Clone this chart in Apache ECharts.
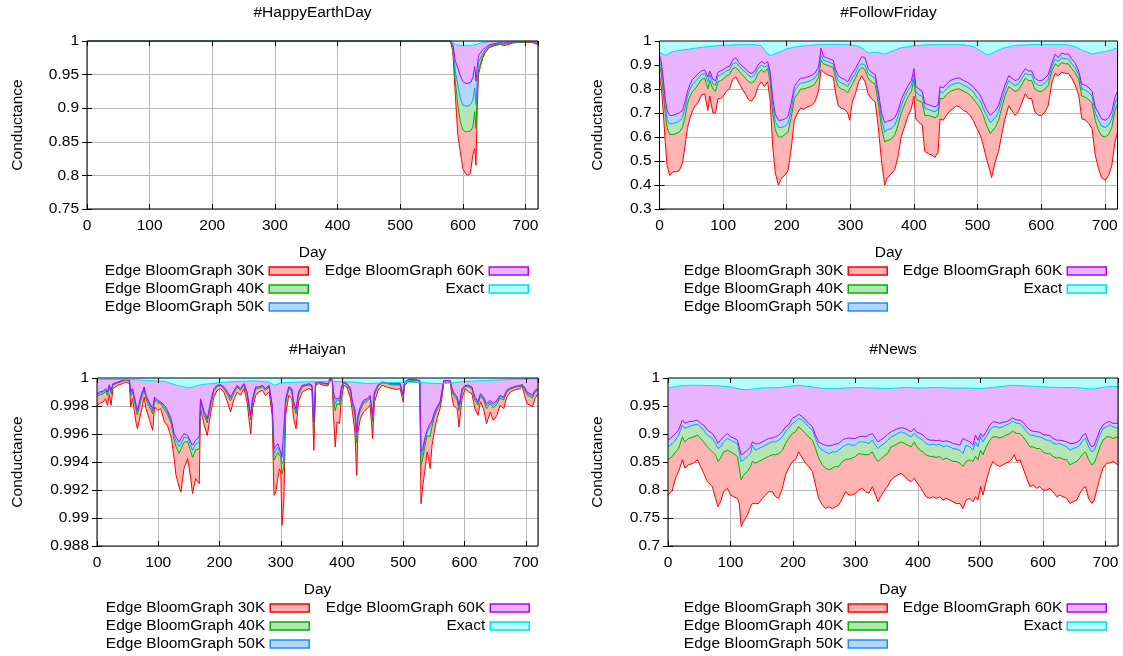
<!DOCTYPE html>
<html>
<head>
<meta charset="utf-8">
<title>Conductance</title>
<script src="https://cdn.jsdelivr.net/npm/echarts@6/dist/echarts.min.js"></script>
<style>
  html, body { margin: 0; padding: 0; background: #fff; }
  #chart { width: 1123px; height: 656px; }
</style>
</head>
<body>
<div id="chart"></div>
<script>
const seriesNames = ['Edge BloomGraph 30K', 'Edge BloomGraph 40K', 'Edge BloomGraph 50K', 'Edge BloomGraph 60K', 'Exact'];

// #HappyEarthDay
const happyDays = [0, 580, 584, 588, 592, 596, 600, 604, 608, 612, 616, 619, 621, 623, 625, 628, 632, 636, 642, 650, 660, 665, 670, 680, 690, 700, 710, 715, 720];
const happy30K = [1, 1, 0.985, 0.92, 0.86, 0.835, 0.81, 0.803, 0.80, 0.803, 0.83, 0.84, 0.815, 0.90, 0.95, 0.962, 0.975, 0.983, 0.99, 0.993, 0.995, 0.993, 0.994, 0.997, 0.998, 0.998, 0.998, 0.996, 0.995];
const happy40K = [1, 1, 0.99, 0.94, 0.905, 0.88, 0.868, 0.865, 0.865, 0.866, 0.872, 0.895, 0.87, 0.92, 0.955, 0.966, 0.978, 0.985, 0.991, 0.994, 0.996, 0.995, 0.996, 0.998, 0.998, 0.999, 0.999, 0.998, 0.997];
const happy50K = [1, 1, 0.992, 0.955, 0.935, 0.915, 0.905, 0.903, 0.903, 0.905, 0.912, 0.93, 0.905, 0.94, 0.968, 0.974, 0.982, 0.987, 0.992, 0.995, 0.997, 0.996, 0.997, 0.998, 0.999, 0.999, 0.999, 0.998, 0.998];
const happy60K = [1, 1, 0.995, 0.97, 0.96, 0.948, 0.94, 0.937, 0.937, 0.938, 0.945, 0.962, 0.94, 0.96, 0.978, 0.982, 0.987, 0.99, 0.994, 0.996, 0.998, 0.997, 0.998, 0.999, 0.999, 0.9995, 0.9995, 0.999, 0.999];
const happyExact = [1, 1, 0.999, 0.995, 0.994, 0.9935, 0.993, 0.993, 0.993, 0.993, 0.9935, 0.9945, 0.9945, 0.995, 0.996, 0.997, 0.998, 0.998, 0.999, 0.999, 0.999, 0.999, 0.999, 0.9995, 0.9995, 0.9995, 0.9995, 0.9995, 0.9995];

// #FollowFriday
const fridayDays = [
  0, 3, 6, 9, 12, 16, 21, 26, 31, 36,
  40, 44, 48, 52, 56, 61, 66, 71, 76, 79,
  84, 88, 92, 96, 100, 105, 110, 115, 120, 125,
  130, 135, 140, 145, 150, 155, 160, 165, 170, 174,
  178, 182, 187, 192, 197, 202, 207, 212, 217, 222,
  227, 232, 238, 244, 250, 254, 258, 263, 268, 273,
  277, 281, 286, 291, 296, 299, 303, 308, 313, 318,
  323, 328, 333, 339, 344, 349, 354, 358, 364, 370,
  375, 380, 386, 391, 396, 400, 403, 408, 413, 417,
  423, 428, 433, 438, 441, 446, 451, 457, 462, 467,
  472, 478, 483, 488, 493, 499, 504, 509, 514, 520,
  522, 528, 533, 538, 543, 549, 554, 559, 564, 570,
  575, 580, 585, 590, 596, 601, 606, 611, 617, 622,
  627, 632, 638, 643, 648, 653, 659, 664, 670, 675,
  680, 685, 690, 695, 701, 706, 711, 716, 720];
const friday30K = [
  0.85, 0.80, 0.70, 0.58, 0.48, 0.44, 0.455, 0.455, 0.46, 0.49,
  0.56, 0.64, 0.68, 0.71, 0.73, 0.745, 0.775, 0.78, 0.71, 0.77,
  0.70, 0.70, 0.76, 0.76, 0.77, 0.79, 0.80, 0.84, 0.85, 0.825,
  0.80, 0.78, 0.755, 0.75, 0.77, 0.81, 0.83, 0.81, 0.83, 0.75,
  0.56, 0.45, 0.40, 0.43, 0.44, 0.46, 0.55, 0.67, 0.70, 0.72,
  0.715, 0.725, 0.73, 0.745, 0.79, 0.88, 0.87, 0.86, 0.855, 0.85,
  0.78, 0.73, 0.72, 0.715, 0.70, 0.67, 0.745, 0.78, 0.83, 0.855,
  0.83, 0.78, 0.76, 0.745, 0.64, 0.50, 0.40, 0.43, 0.445, 0.465,
  0.52, 0.60, 0.65, 0.69, 0.72, 0.77, 0.675, 0.66, 0.65, 0.54,
  0.53, 0.525, 0.515, 0.535, 0.675, 0.67, 0.69, 0.71, 0.72, 0.73,
  0.725, 0.71, 0.705, 0.69, 0.67, 0.635, 0.61, 0.565, 0.51, 0.455,
  0.43, 0.50, 0.54, 0.61, 0.675, 0.73, 0.71, 0.69, 0.705, 0.745,
  0.78, 0.76, 0.76, 0.705, 0.69, 0.69, 0.705, 0.73, 0.83, 0.865,
  0.855, 0.87, 0.865, 0.865, 0.845, 0.82, 0.775, 0.675, 0.67, 0.655,
  0.635, 0.525, 0.47, 0.43, 0.42, 0.44, 0.48, 0.58, 0.62];
const friday40K = [
  0.90, 0.86, 0.78, 0.70, 0.64, 0.61, 0.61, 0.615, 0.62, 0.64,
  0.68, 0.74, 0.77, 0.79, 0.80, 0.82, 0.84, 0.845, 0.80, 0.835,
  0.80, 0.79, 0.83, 0.835, 0.84, 0.855, 0.86, 0.885, 0.89, 0.875,
  0.86, 0.845, 0.83, 0.825, 0.835, 0.865, 0.88, 0.87, 0.885, 0.83,
  0.70, 0.63, 0.60, 0.60, 0.61, 0.62, 0.68, 0.76, 0.78, 0.80,
  0.80, 0.805, 0.81, 0.82, 0.85, 0.92, 0.905, 0.90, 0.895, 0.89,
  0.84, 0.81, 0.80, 0.795, 0.785, 0.78, 0.82, 0.845, 0.875, 0.89,
  0.88, 0.845, 0.83, 0.82, 0.74, 0.64, 0.58, 0.585, 0.59, 0.61,
  0.65, 0.70, 0.74, 0.77, 0.79, 0.84, 0.76, 0.75, 0.745, 0.69,
  0.69, 0.685, 0.68, 0.69, 0.76, 0.76, 0.775, 0.79, 0.795, 0.80,
  0.80, 0.79, 0.785, 0.775, 0.76, 0.74, 0.72, 0.69, 0.65, 0.615,
  0.61, 0.64, 0.67, 0.72, 0.77, 0.81, 0.80, 0.79, 0.795, 0.82,
  0.845, 0.835, 0.835, 0.80, 0.79, 0.79, 0.80, 0.815, 0.875, 0.905,
  0.895, 0.91, 0.905, 0.905, 0.885, 0.87, 0.84, 0.77, 0.765, 0.755,
  0.74, 0.67, 0.63, 0.605, 0.60, 0.61, 0.64, 0.71, 0.74];
const friday50K = [
  0.92, 0.89, 0.81, 0.73, 0.67, 0.655, 0.655, 0.66, 0.665, 0.68,
  0.72, 0.77, 0.80, 0.82, 0.83, 0.845, 0.86, 0.865, 0.83, 0.86,
  0.82, 0.815, 0.855, 0.86, 0.865, 0.875, 0.88, 0.905, 0.91, 0.895,
  0.88, 0.87, 0.855, 0.85, 0.86, 0.885, 0.90, 0.89, 0.90, 0.855,
  0.73, 0.665, 0.64, 0.64, 0.645, 0.655, 0.71, 0.79, 0.81, 0.825,
  0.825, 0.83, 0.835, 0.845, 0.87, 0.94, 0.92, 0.915, 0.91, 0.905,
  0.86, 0.835, 0.825, 0.82, 0.81, 0.805, 0.845, 0.865, 0.895, 0.905,
  0.90, 0.865, 0.855, 0.845, 0.77, 0.675, 0.62, 0.63, 0.635, 0.65,
  0.685, 0.73, 0.77, 0.795, 0.815, 0.86, 0.79, 0.775, 0.77, 0.72,
  0.715, 0.71, 0.705, 0.715, 0.79, 0.785, 0.80, 0.815, 0.82, 0.825,
  0.825, 0.815, 0.81, 0.80, 0.79, 0.765, 0.75, 0.72, 0.69, 0.66,
  0.655, 0.68, 0.705, 0.75, 0.795, 0.835, 0.825, 0.815, 0.82, 0.845,
  0.865, 0.86, 0.86, 0.825, 0.815, 0.815, 0.825, 0.84, 0.895, 0.925,
  0.915, 0.93, 0.925, 0.925, 0.905, 0.89, 0.86, 0.80, 0.795, 0.785,
  0.77, 0.70, 0.67, 0.645, 0.64, 0.65, 0.675, 0.74, 0.765];
const friday60K = [
  0.94, 0.91, 0.84, 0.76, 0.71, 0.69, 0.69, 0.695, 0.70, 0.71,
  0.745, 0.79, 0.82, 0.84, 0.85, 0.865, 0.875, 0.88, 0.85, 0.875,
  0.84, 0.835, 0.87, 0.875, 0.88, 0.89, 0.895, 0.92, 0.93, 0.91,
  0.895, 0.885, 0.87, 0.865, 0.875, 0.90, 0.915, 0.905, 0.915, 0.87,
  0.76, 0.695, 0.67, 0.67, 0.675, 0.685, 0.74, 0.81, 0.83, 0.845,
  0.845, 0.85, 0.855, 0.865, 0.89, 0.97, 0.935, 0.93, 0.925, 0.92,
  0.88, 0.855, 0.845, 0.84, 0.83, 0.825, 0.865, 0.885, 0.91, 0.935,
  0.93, 0.885, 0.87, 0.86, 0.79, 0.70, 0.66, 0.665, 0.67, 0.68,
  0.71, 0.755, 0.79, 0.815, 0.835, 0.885, 0.81, 0.80, 0.79, 0.74,
  0.735, 0.73, 0.725, 0.735, 0.81, 0.805, 0.82, 0.835, 0.84, 0.845,
  0.845, 0.835, 0.83, 0.82, 0.81, 0.79, 0.775, 0.745, 0.715, 0.69,
  0.685, 0.71, 0.73, 0.775, 0.815, 0.855, 0.845, 0.835, 0.84, 0.865,
  0.885, 0.875, 0.875, 0.845, 0.835, 0.835, 0.845, 0.86, 0.91, 0.945,
  0.93, 0.95, 0.945, 0.945, 0.925, 0.91, 0.875, 0.82, 0.815, 0.805,
  0.79, 0.725, 0.70, 0.675, 0.67, 0.68, 0.705, 0.765, 0.79];
const fridayExactDays = [
  0, 5, 10, 20, 30, 50, 70, 100, 130, 150,
  160, 165, 170, 175, 180, 190, 200, 220, 250, 280,
  300, 310, 320, 325, 330, 340, 350, 355, 360, 370,
  380, 400, 420, 450, 480, 495, 505, 510, 515, 520,
  530, 540, 560, 600, 640, 655, 665, 675, 680, 690,
  700, 710, 720];
const fridayExact = [
  0.955, 0.945, 0.94, 0.955, 0.96, 0.968, 0.975, 0.982, 0.985, 0.985,
  0.98, 0.962, 0.945, 0.94, 0.945, 0.955, 0.968, 0.978, 0.985, 0.986,
  0.985, 0.98, 0.968, 0.955, 0.95, 0.953, 0.948, 0.945, 0.952, 0.962,
  0.972, 0.98, 0.984, 0.986, 0.984, 0.975, 0.958, 0.95, 0.942, 0.945,
  0.958, 0.97, 0.982, 0.986, 0.985, 0.975, 0.96, 0.952, 0.945, 0.952,
  0.955, 0.962, 0.972];

// #Haiyan
const haiyanDays = [
  0, 4, 10, 14, 17, 20, 23, 26, 28, 34,
  42, 47, 53, 55, 58, 64, 66, 72, 77, 80,
  85, 91, 94, 99, 104, 110, 115, 121, 126, 129,
  134, 137, 142, 148, 153, 156, 161, 167, 169, 175,
  180, 186, 191, 196, 202, 207, 213, 218, 224, 229,
  234, 240, 245, 251, 254, 259, 264, 270, 275, 281,
  286, 289, 292, 295, 298, 300, 302, 305, 308, 313,
  318, 321, 325, 329, 335, 340, 346, 351, 354, 357,
  362, 370, 377, 380, 384, 386, 389, 392, 396, 399,
  403, 408, 414, 417, 421, 424, 426, 430, 435, 441,
  446, 450, 453, 459, 465, 473, 482, 490, 495, 498,
  500, 502, 509, 520, 527, 529, 532, 535, 539, 541,
  544, 547, 551, 555, 560, 563, 566, 571, 577, 579,
  582, 588, 591, 596, 601, 607, 612, 617, 622, 626,
  631, 636, 642, 647, 653, 658, 664, 669, 675, 680,
  685, 691, 694, 698, 702, 707, 711, 715, 720];
const haiyan30K = [
  0.99805, 0.99817, 0.99829, 0.99852, 0.99805, 0.99881, 0.99805, 0.99924, 0.99936, 0.99948,
  0.99960, 0.99971, 0.99960, 0.99793, 0.99852, 0.99674, 0.99638, 0.99757, 0.99864, 0.99781,
  0.99710, 0.99626, 0.99793, 0.99769, 0.99781, 0.99686, 0.99662, 0.99579, 0.99424, 0.99305,
  0.99221, 0.99186, 0.99352, 0.99424, 0.99281, 0.99174, 0.99281, 0.99245, 0.99781, 0.99662,
  0.99590, 0.99757, 0.99864, 0.99912, 0.99924, 0.99900, 0.99829, 0.99757, 0.99852, 0.99900,
  0.99876, 0.99924, 0.99829, 0.99602, 0.99781, 0.99876, 0.99900, 0.99912, 0.99876, 0.99900,
  0.99733, 0.99162, 0.99186, 0.99281, 0.99352, 0.99329, 0.98948, 0.99114, 0.99733, 0.99876,
  0.99852, 0.99710, 0.99638, 0.99829, 0.99900, 0.99912, 0.99924, 0.99912, 0.99483, 0.99948,
  0.99960, 0.99948, 0.99943, 0.99983, 0.99976, 0.99733, 0.99507, 0.99686, 0.99674, 0.99852,
  0.99948, 0.99936, 0.99852, 0.99757, 0.99614, 0.99305, 0.99614, 0.99710, 0.99757, 0.99781,
  0.99805, 0.99567, 0.99829, 0.99912, 0.99948, 0.99936, 0.99924, 0.99919, 0.99924, 0.99912,
  0.99829, 0.99948, 0.99976, 0.99971, 0.99964, 0.99102, 0.99233, 0.99329, 0.99471, 0.99436,
  0.99352, 0.99519, 0.99626, 0.99710, 0.99781, 0.99852, 0.99960, 0.99971, 0.99971, 0.99876,
  0.99805, 0.99781, 0.99650, 0.99852, 0.99924, 0.99900, 0.99888, 0.99781, 0.99733, 0.99829,
  0.99781, 0.99674, 0.99757, 0.99698, 0.99733, 0.99805, 0.99781, 0.99864, 0.99900, 0.99912,
  0.99919, 0.99924, 0.99948, 0.99876, 0.99817, 0.99805, 0.99793, 0.99852, 0.99888];
const haiyan40K = [
  0.99867, 0.99879, 0.99886, 0.99905, 0.99876, 0.99933, 0.99886, 0.99950, 0.99948, 0.99964,
  0.99976, 0.99986, 0.99976, 0.99874, 0.99905, 0.99771, 0.99736, 0.99845, 0.99917, 0.99852,
  0.99798, 0.99743, 0.99845, 0.99821, 0.99817, 0.99774, 0.99743, 0.99676, 0.99557, 0.99510,
  0.99462, 0.99471, 0.99540, 0.99548, 0.99476, 0.99433, 0.99486, 0.99495, 0.99833, 0.99733,
  0.99679, 0.99819, 0.99910, 0.99938, 0.99945, 0.99926, 0.99881, 0.99838, 0.99898, 0.99936,
  0.99912, 0.99950, 0.99881, 0.99700, 0.99833, 0.99921, 0.99926, 0.99938, 0.99912, 0.99936,
  0.99786, 0.99412, 0.99426, 0.99469, 0.99476, 0.99436, 0.99314, 0.99364, 0.99821, 0.99921,
  0.99905, 0.99798, 0.99745, 0.99881, 0.99936, 0.99943, 0.99950, 0.99938, 0.99636, 0.99962,
  0.99969, 0.99960, 0.99955, 0.99993, 0.99986, 0.99857, 0.99767, 0.99819, 0.99807, 0.99914,
  0.99964, 0.99952, 0.99905, 0.99810, 0.99738, 0.99536, 0.99702, 0.99771, 0.99819, 0.99833,
  0.99857, 0.99690, 0.99881, 0.99943, 0.99964, 0.99960, 0.99950, 0.99950, 0.99950, 0.99938,
  0.99864, 0.99964, 0.99986, 0.99983, 0.99979, 0.99379, 0.99429, 0.99507, 0.99588, 0.99595,
  0.99583, 0.99652, 0.99724, 0.99771, 0.99817, 0.99888, 0.99976, 0.99981, 0.99979, 0.99921,
  0.99876, 0.99843, 0.99767, 0.99905, 0.99940, 0.99936, 0.99924, 0.99843, 0.99805, 0.99874,
  0.99843, 0.99781, 0.99819, 0.99786, 0.99814, 0.99857, 0.99843, 0.99900, 0.99921, 0.99929,
  0.99936, 0.99940, 0.99957, 0.99921, 0.99879, 0.99867, 0.99855, 0.99898, 0.99914];
const haiyan50K = [
  0.99879, 0.99890, 0.99898, 0.99917, 0.99890, 0.99945, 0.99900, 0.99955, 0.99950, 0.99969,
  0.99981, 0.99988, 0.99981, 0.99888, 0.99917, 0.99790, 0.99755, 0.99864, 0.99929, 0.99867,
  0.99817, 0.99764, 0.99857, 0.99833, 0.99824, 0.99793, 0.99757, 0.99695, 0.99583, 0.99550,
  0.99510, 0.99529, 0.99576, 0.99574, 0.99517, 0.99483, 0.99526, 0.99545, 0.99845, 0.99748,
  0.99698, 0.99831, 0.99917, 0.99943, 0.99950, 0.99931, 0.99893, 0.99852, 0.99905, 0.99943,
  0.99919, 0.99955, 0.99893, 0.99719, 0.99845, 0.99929, 0.99931, 0.99943, 0.99919, 0.99943,
  0.99798, 0.99462, 0.99474, 0.99505, 0.99502, 0.99457, 0.99386, 0.99414, 0.99840, 0.99929,
  0.99917, 0.99817, 0.99767, 0.99893, 0.99943, 0.99948, 0.99955, 0.99943, 0.99664, 0.99964,
  0.99969, 0.99962, 0.99957, 0.99993, 0.99988, 0.99883, 0.99817, 0.99845, 0.99833, 0.99926,
  0.99969, 0.99957, 0.99917, 0.99821, 0.99764, 0.99583, 0.99721, 0.99783, 0.99831, 0.99845,
  0.99869, 0.99717, 0.99893, 0.99948, 0.99969, 0.99964, 0.99955, 0.99955, 0.99955, 0.99943,
  0.99871, 0.99969, 0.99988, 0.99986, 0.99981, 0.99433, 0.99469, 0.99543, 0.99610, 0.99629,
  0.99631, 0.99679, 0.99743, 0.99783, 0.99824, 0.99895, 0.99981, 0.99981, 0.99981, 0.99929,
  0.99890, 0.99855, 0.99788, 0.99917, 0.99945, 0.99943, 0.99931, 0.99855, 0.99819, 0.99881,
  0.99855, 0.99802, 0.99831, 0.99805, 0.99829, 0.99869, 0.99855, 0.99907, 0.99926, 0.99933,
  0.99940, 0.99945, 0.99957, 0.99929, 0.99890, 0.99879, 0.99867, 0.99905, 0.99919];
const haiyan60K = [
  0.99888, 0.99900, 0.99905, 0.99924, 0.99900, 0.99952, 0.99912, 0.99960, 0.99952, 0.99971,
  0.99983, 0.99990, 0.99983, 0.99900, 0.99924, 0.99805, 0.99769, 0.99876, 0.99936, 0.99876,
  0.99829, 0.99781, 0.99864, 0.99840, 0.99829, 0.99805, 0.99769, 0.99710, 0.99602, 0.99579,
  0.99543, 0.99567, 0.99602, 0.99590, 0.99543, 0.99519, 0.99555, 0.99579, 0.99852, 0.99757,
  0.99710, 0.99840, 0.99924, 0.99948, 0.99952, 0.99936, 0.99900, 0.99864, 0.99912, 0.99948,
  0.99924, 0.99960, 0.99900, 0.99733, 0.99852, 0.99936, 0.99936, 0.99948, 0.99924, 0.99948,
  0.99805, 0.99495, 0.99507, 0.99531, 0.99519, 0.99471, 0.99436, 0.99448, 0.99852, 0.99936,
  0.99924, 0.99829, 0.99781, 0.99900, 0.99948, 0.99952, 0.99960, 0.99948, 0.99686, 0.99967,
  0.99971, 0.99964, 0.99960, 0.99995, 0.99990, 0.99900, 0.99852, 0.99864, 0.99852, 0.99936,
  0.99971, 0.99960, 0.99924, 0.99829, 0.99781, 0.99614, 0.99733, 0.99793, 0.99840, 0.99852,
  0.99876, 0.99733, 0.99900, 0.99952, 0.99971, 0.99967, 0.99960, 0.99960, 0.99960, 0.99948,
  0.99876, 0.99971, 0.99990, 0.99988, 0.99983, 0.99471, 0.99495, 0.99567, 0.99626, 0.99650,
  0.99662, 0.99698, 0.99757, 0.99793, 0.99829, 0.99900, 0.99983, 0.99983, 0.99981, 0.99936,
  0.99900, 0.99864, 0.99805, 0.99924, 0.99948, 0.99948, 0.99936, 0.99864, 0.99829, 0.99888,
  0.99864, 0.99817, 0.99840, 0.99817, 0.99840, 0.99876, 0.99864, 0.99912, 0.99929, 0.99936,
  0.99943, 0.99948, 0.99960, 0.99936, 0.99900, 0.99888, 0.99876, 0.99912, 0.99924];
const haiyanExactDays = [0, 50, 110, 130, 150, 170, 200, 230, 260, 280, 290, 300, 330, 380, 420, 440, 480, 520, 540, 560, 580, 600, 640, 680, 720];
const haiyanExact = [0.99988, 0.99990, 0.99976, 0.99948, 0.99929, 0.99952, 0.99967, 0.99976, 0.99979, 0.99971, 0.99948, 0.99964, 0.99971, 0.99976, 0.99971, 0.99960, 0.99967, 0.99971, 0.99964, 0.99960, 0.99964, 0.99976, 0.99983, 0.99990, 0.99995];

// #News
const newsDays = [
  0, 7, 12, 17, 23, 27, 33, 41, 47, 52,
  57, 63, 71, 76, 80, 84, 89, 95, 100, 105,
  111, 114, 117, 121, 127, 132, 135, 140, 145, 151,
  156, 161, 167, 172, 177, 183, 188, 193, 199, 204,
  209, 215, 220, 225, 231, 236, 241, 247, 252, 257,
  263, 268, 273, 279, 284, 289, 295, 300, 305, 311,
  316, 321, 327, 332, 336, 340, 345, 351, 357, 363,
  368, 373, 379, 384, 389, 394, 397, 403, 408, 413,
  419, 424, 429, 435, 440, 445, 451, 456, 461, 467,
  472, 477, 483, 488, 492, 496, 500, 504, 509, 515,
  520, 525, 531, 536, 541, 547, 551, 554, 558, 563,
  568, 574, 579, 584, 590, 595, 600, 606, 611, 616,
  622, 627, 632, 638, 643, 648, 654, 659, 664, 668,
  673, 678, 682, 686, 691, 696, 702, 707, 712, 715,
  720];
const news30K = [
  0.791, 0.800, 0.821, 0.833, 0.854, 0.839, 0.845, 0.848, 0.854, 0.842,
  0.830, 0.815, 0.806, 0.785, 0.770, 0.779, 0.797, 0.803, 0.791, 0.788,
  0.785, 0.776, 0.735, 0.744, 0.755, 0.770, 0.776, 0.776, 0.776, 0.785,
  0.791, 0.797, 0.797, 0.788, 0.785, 0.803, 0.827, 0.839, 0.851, 0.854,
  0.868, 0.857, 0.848, 0.842, 0.833, 0.809, 0.785, 0.773, 0.767, 0.770,
  0.767, 0.770, 0.773, 0.785, 0.797, 0.791, 0.791, 0.794, 0.800, 0.803,
  0.797, 0.794, 0.806, 0.791, 0.779, 0.788, 0.797, 0.806, 0.818, 0.824,
  0.827, 0.830, 0.824, 0.818, 0.815, 0.821, 0.815, 0.806, 0.797, 0.788,
  0.785, 0.788, 0.785, 0.788, 0.782, 0.785, 0.782, 0.779, 0.776, 0.776,
  0.767, 0.782, 0.785, 0.779, 0.788, 0.782, 0.806, 0.791, 0.815, 0.839,
  0.851, 0.845, 0.842, 0.845, 0.848, 0.851, 0.857, 0.863, 0.851, 0.854,
  0.839, 0.821, 0.806, 0.809, 0.803, 0.806, 0.800, 0.800, 0.803, 0.797,
  0.788, 0.791, 0.788, 0.785, 0.776, 0.779, 0.782, 0.794, 0.803, 0.806,
  0.785, 0.776, 0.782, 0.800, 0.821, 0.839, 0.848, 0.848, 0.851, 0.848,
  0.845];
const news40K = [
  0.854, 0.860, 0.868, 0.874, 0.895, 0.886, 0.892, 0.895, 0.898, 0.892,
  0.886, 0.877, 0.868, 0.863, 0.851, 0.857, 0.868, 0.871, 0.868, 0.865,
  0.860, 0.860, 0.818, 0.827, 0.833, 0.842, 0.851, 0.848, 0.851, 0.854,
  0.857, 0.860, 0.863, 0.863, 0.865, 0.871, 0.883, 0.892, 0.901, 0.904,
  0.913, 0.907, 0.901, 0.895, 0.889, 0.874, 0.857, 0.845, 0.839, 0.836,
  0.839, 0.842, 0.842, 0.851, 0.854, 0.855, 0.857, 0.860, 0.865, 0.864,
  0.863, 0.863, 0.868, 0.857, 0.851, 0.855, 0.860, 0.865, 0.877, 0.880,
  0.883, 0.886, 0.883, 0.880, 0.877, 0.886, 0.879, 0.871, 0.868, 0.863,
  0.860, 0.860, 0.858, 0.860, 0.854, 0.857, 0.854, 0.851, 0.851, 0.848,
  0.842, 0.851, 0.854, 0.851, 0.860, 0.854, 0.871, 0.863, 0.877, 0.889,
  0.895, 0.895, 0.893, 0.895, 0.898, 0.901, 0.905, 0.907, 0.901, 0.901,
  0.895, 0.886, 0.877, 0.877, 0.874, 0.874, 0.868, 0.865, 0.865, 0.860,
  0.857, 0.858, 0.855, 0.854, 0.845, 0.848, 0.851, 0.857, 0.865, 0.868,
  0.854, 0.845, 0.848, 0.860, 0.877, 0.889, 0.895, 0.895, 0.892, 0.892,
  0.895];
const news50K = [
  0.877, 0.883, 0.889, 0.898, 0.916, 0.910, 0.913, 0.916, 0.917, 0.913,
  0.907, 0.898, 0.892, 0.883, 0.874, 0.877, 0.886, 0.892, 0.889, 0.886,
  0.883, 0.880, 0.851, 0.854, 0.860, 0.865, 0.880, 0.871, 0.874, 0.877,
  0.880, 0.883, 0.886, 0.886, 0.889, 0.895, 0.904, 0.910, 0.919, 0.922,
  0.928, 0.925, 0.919, 0.913, 0.907, 0.892, 0.877, 0.871, 0.868, 0.865,
  0.868, 0.868, 0.871, 0.877, 0.880, 0.882, 0.880, 0.880, 0.886, 0.886,
  0.885, 0.883, 0.889, 0.880, 0.874, 0.879, 0.882, 0.888, 0.895, 0.898,
  0.901, 0.904, 0.901, 0.898, 0.895, 0.901, 0.897, 0.892, 0.889, 0.883,
  0.880, 0.882, 0.880, 0.882, 0.877, 0.879, 0.877, 0.874, 0.873, 0.871,
  0.865, 0.880, 0.877, 0.871, 0.886, 0.877, 0.895, 0.886, 0.895, 0.907,
  0.913, 0.913, 0.911, 0.913, 0.916, 0.919, 0.923, 0.925, 0.919, 0.919,
  0.913, 0.904, 0.898, 0.898, 0.895, 0.895, 0.892, 0.889, 0.889, 0.883,
  0.882, 0.883, 0.880, 0.877, 0.871, 0.874, 0.876, 0.880, 0.889, 0.892,
  0.877, 0.868, 0.871, 0.883, 0.898, 0.910, 0.913, 0.916, 0.913, 0.913,
  0.910];
const news60K = [
  0.889, 0.895, 0.901, 0.907, 0.925, 0.919, 0.922, 0.923, 0.925, 0.919,
  0.916, 0.907, 0.901, 0.892, 0.883, 0.889, 0.895, 0.901, 0.895, 0.893,
  0.889, 0.886, 0.863, 0.865, 0.871, 0.877, 0.886, 0.882, 0.883, 0.886,
  0.889, 0.892, 0.893, 0.895, 0.898, 0.904, 0.913, 0.916, 0.928, 0.931,
  0.935, 0.931, 0.925, 0.919, 0.913, 0.898, 0.886, 0.882, 0.880, 0.879,
  0.880, 0.882, 0.883, 0.889, 0.892, 0.893, 0.892, 0.892, 0.895, 0.896,
  0.895, 0.898, 0.901, 0.892, 0.886, 0.889, 0.893, 0.899, 0.904, 0.907,
  0.910, 0.911, 0.910, 0.907, 0.904, 0.910, 0.904, 0.901, 0.898, 0.892,
  0.889, 0.889, 0.888, 0.889, 0.886, 0.888, 0.886, 0.883, 0.882, 0.880,
  0.892, 0.889, 0.886, 0.880, 0.898, 0.889, 0.901, 0.895, 0.904, 0.916,
  0.922, 0.921, 0.919, 0.921, 0.922, 0.925, 0.929, 0.931, 0.925, 0.925,
  0.921, 0.913, 0.907, 0.905, 0.904, 0.903, 0.899, 0.898, 0.897, 0.892,
  0.889, 0.889, 0.888, 0.886, 0.883, 0.883, 0.885, 0.889, 0.898, 0.901,
  0.886, 0.877, 0.880, 0.892, 0.907, 0.916, 0.921, 0.922, 0.919, 0.922,
  0.919];
const newsExactDays = [0, 15, 30, 50, 80, 100, 115, 125, 150, 180, 210, 230, 250, 270, 300, 330, 350, 380, 400, 430, 450, 480, 500, 520, 550, 570, 600, 630, 650, 670, 680, 690, 700, 720];
const newsExact = [0.982, 0.985, 0.987, 0.987, 0.986, 0.984, 0.980, 0.979, 0.982, 0.983, 0.987, 0.984, 0.981, 0.981, 0.983, 0.982, 0.981, 0.983, 0.982, 0.983, 0.982, 0.982, 0.981, 0.983, 0.987, 0.986, 0.984, 0.983, 0.983, 0.981, 0.980, 0.982, 0.984, 0.985];

const lineColors = ['#ff0000', '#00b000', '#1e8fff', '#b400ff', '#00e0e0'];
const fillColors = ['#ffb3b3', '#b3e6b3', '#b3d7ff', '#e8b3ff', '#b3ffff'];
const fontSize = 15.5;

const panels = [
  { title: '#HappyEarthDay', left: 87, top: 41, width: 451, height: 168, yMin: 0.75, yMax: 1, yStep: 0.05, yGap: 61,
    legendX: [309, 529], legendY: 271,
    days: [happyDays, happyDays, happyDays, happyDays, happyDays],
    values: [happy30K, happy40K, happy50K, happy60K, happyExact] },
  { title: '#FollowFriday', left: 659.5, top: 41, width: 458, height: 168, yMin: 0.3, yMax: 1, yStep: 0.1, yGap: 54,
    legendX: [888, 1107], legendY: 271,
    days: [fridayDays, fridayDays, fridayDays, fridayDays, fridayExactDays],
    values: [friday30K, friday40K, friday50K, friday60K, fridayExact] },
  { title: '#Haiyan', left: 97, top: 378, width: 441, height: 168, yMin: 0.988, yMax: 1, yStep: 0.002, yGap: 71,
    legendX: [310, 530], legendY: 608,
    days: [haiyanDays, haiyanDays, haiyanDays, haiyanDays, haiyanExactDays],
    values: [haiyan30K, haiyan40K, haiyan50K, haiyan60K, haiyanExact] },
  { title: '#News', left: 668, top: 378, width: 450, height: 168, yMin: 0.7, yMax: 1, yStep: 0.05, yGap: 62,
    legendX: [888, 1107], legendY: 608,
    days: [newsDays, newsDays, newsDays, newsDays, newsExactDays],
    values: [news30K, news40K, news50K, news60K, newsExact] }
];

const chart = echarts.init(document.getElementById('chart'));
const W = 1123;
const option = {
  animation: false,
  backgroundColor: '#fff',
  textStyle: { fontFamily: 'Liberation Sans, Arial, sans-serif', color: '#000' },
  title: [], grid: [], xAxis: [], yAxis: [], legend: [], series: []
};
const tick = { inside: true, length: 5, lineStyle: { color: '#000' } };
const split = { show: true, lineStyle: { color: '#b8b8b8', width: 1 } };

panels.forEach((p, k) => {
  option.title.push({
    text: p.title, left: p.left + p.width / 2, top: p.top - 36, textAlign: 'center', padding: 0,
    textStyle: { fontSize: fontSize, fontWeight: 'normal', color: '#000' }
  });
  option.grid.push({
    left: p.left, top: p.top, width: p.width, height: p.height,
    show: true, borderColor: '#000', borderWidth: 1, backgroundColor: 'transparent', z: 10
  });
  option.xAxis.push({
    gridIndex: k, type: 'value', min: 0, max: 720, interval: 100,
    name: 'Day', nameLocation: 'middle', nameGap: 36,
    nameTextStyle: { fontSize: fontSize, color: '#000' },
    axisLine: { show: false }, axisTick: tick,
    axisLabel: { fontSize: fontSize, color: '#000', margin: 9, showMaxLabel: false },
    splitLine: split
  }, {
    gridIndex: k, type: 'value', min: 0, max: 720, interval: 100, position: 'top', z: 10,
    axisLine: { show: false }, axisTick: tick, axisLabel: { show: false }, splitLine: { show: false }
  });
  option.yAxis.push({
    gridIndex: k, type: 'value', min: p.yMin, max: p.yMax, interval: p.yStep,
    name: 'Conductance', nameLocation: 'middle', nameGap: p.yGap,
    nameTextStyle: { fontSize: fontSize, color: '#000' },
    axisLine: { show: false }, axisTick: tick,
    axisLabel: { fontSize: fontSize, color: '#000', margin: 8 },
    splitLine: split
  }, {
    gridIndex: k, type: 'value', min: p.yMin, max: p.yMax, interval: p.yStep, position: 'right', z: 10,
    axisLine: { show: false }, axisTick: tick, axisLabel: { show: false }, splitLine: { show: false }
  });

  seriesNames.forEach((name, j) => {
    option.series.push({
      type: 'line', name: name, xAxisIndex: 2 * k, yAxisIndex: 2 * k,
      data: p.days[j].map((d, i) => [d, p.values[j][i]]),
      showSymbol: false, symbol: 'none', silent: true,
      lineStyle: { color: lineColors[j], width: 1 },
      itemStyle: { color: lineColors[j] },
      areaStyle: { color: fillColors[j], opacity: 1, origin: 'end' }
    });
    const col = j < 3 ? 0 : 1;
    const row = j < 3 ? j : j - 3;
    option.legend.push({
      data: [{ name: name, icon: 'rect', itemStyle: { color: fillColors[j], borderColor: lineColors[j], borderWidth: 1.5 } }],
      right: W - p.legendX[col], top: p.legendY + row * 18 - 8,
      align: 'right', itemWidth: 39, itemHeight: 8, padding: 0, selectedMode: false,
      textStyle: { fontSize: fontSize, color: '#000' }
    });
  });
});

chart.setOption(option);
window.addEventListener('resize', () => chart.resize());
</script>
</body>
</html>
